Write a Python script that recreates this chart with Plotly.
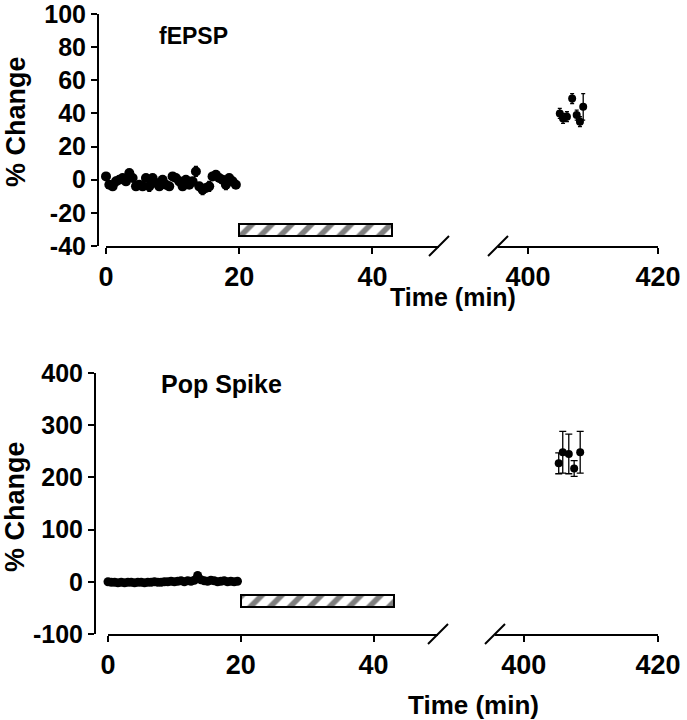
import plotly.graph_objects as go

# Values
time_base = [0, 0.5, 1, 1.5, 2, 2.5, 3, 3.5, 4, 4.5, 5, 5.5, 6, 6.5, 7, 7.5, 8, 8.5, 9, 9.5,
             10, 10.5, 11, 11.5, 12, 12.5, 13, 13.5, 14, 14.5, 15, 15.5, 16, 16.5, 17, 17.5,
             18, 18.5, 19, 19.5]
fepsp_base = [2, -3, -4, -1, 0, 1, -1, 4, 1, -4, -3, -4, 1, -4, 1, -2, -4, 0, -3, -4,
              2, 1, -1, -4, 0, -3, -1, 5, -4, -6, -5, -4, 2, 3, 1, 0, -3, 1, -1, -3]
fepsp_base_err = [1.5, 1.5, 1.5, 1.5, 1.5, 1.5, 1.5, 1.5, 1.5, 1.5, 1.5, 1.5, 1.5, 3, 1.5, 1.5,
                  1.5, 1.5, 1.5, 1.5, 1.5, 1.5, 1.5, 1.5, 1.5, 1.5, 1.5, 3, 1.5, 3, 1.5, 3,
                  1.5, 1.5, 1.5, 1.5, 3, 1.5, 1.5, 1.5]
pop_base = [0, -1, -1, -2, -1, -2, -1, -1, -2, -1, -1, -2, -1, -1, 0, -1, -1, 0, 0, 1,
            0, 1, 2, 0, 2, 1, 3, 12, 4, 2, 1, 3, 2, 0, 1, 2, 0, 1, 0, 1]
pop_base_err = [2] * 40

fepsp_late_t = [404.9, 405.4, 406.0, 406.8, 407.5, 408.0, 408.5]
fepsp_late = [40, 37, 38, 49, 39, 35, 44]
fepsp_late_err = [3, 3, 3, 3, 3, 3, 8]

pop_late_t = [405.2, 405.8, 406.7, 407.5, 408.4]
pop_late = [227, 248, 245, 217, 248]
pop_late_err = [20, 40, 38, 15, 40]

# drug application bar (min) and its vertical extent in each panel
drug_start, drug_end = 20, 43
fepsp_bar = (-34, -27)
pop_bar = (-49, -26)

fepsp_ticks = [-40, -20, 0, 20, 40, 60, 80, 100]
fepsp_ticktext = ['-40', '-20', '0', '20', '40', '60', '80', '100']
pop_ticks = [-100, 0, 100, 200, 300, 400]
pop_ticktext = ['-100', '0', '100', '200', '300', '400']

W, H = 687, 720
FONT = "Liberation Sans, Arial, sans-serif"


def px(x):
    return x / W


def py(y):
    return 1 - y / H


fig = go.Figure()


def add_points(t, v, e, xa, ya, size, cap):
    fig.add_trace(go.Scatter(
        x=t, y=v, xaxis=xa, yaxis=ya, mode='markers',
        marker=dict(color='black', size=size),
        error_y=dict(type='data', array=e, color='black', thickness=1.3, width=cap),
        cliponaxis=False, showlegend=False
    ))


def add_bar(lo, hi, xa, ya):
    fig.add_trace(go.Bar(
        orientation='h', x=[drug_end - drug_start], base=[drug_start],
        y=[(lo + hi) / 2], width=[hi - lo], xaxis=xa, yaxis=ya,
        marker=dict(color='white', line=dict(color='black', width=2),
                    pattern=dict(shape='/', fgcolor='black', bgcolor='white',
                                 size=14, solidity=0.4)),
        showlegend=False
    ))


add_bar(*fepsp_bar, 'x', 'y')
add_points(time_base, fepsp_base, fepsp_base_err, 'x', 'y', 10, 2)
add_points(fepsp_late_t, fepsp_late, fepsp_late_err, 'x2', 'y', 8, 2)

add_bar(*pop_bar, 'x3', 'y2')
add_points(time_base, pop_base, pop_base_err, 'x3', 'y2', 9, 2)
add_points(pop_late_t, pop_late, pop_late_err, 'x4', 'y2', 8, 3.5)

tickfont = dict(family=FONT, size=27, color='black', weight='bold')
ytickfont = dict(family=FONT, size=25, color='black', weight='bold')
axis_common = dict(showline=True, linecolor='black', linewidth=2, ticks='outside',
                   ticklen=6, tickwidth=2, tickcolor='black', showgrid=False,
                   zeroline=False, automargin=False, ticklabeloverflow='allow')

fig.update_layout(
    width=W, height=H, margin=dict(l=0, r=0, t=0, b=0),
    plot_bgcolor='white', paper_bgcolor='white', bargap=0,
    xaxis=dict(domain=[px(106), px(439)], range=[0, 50], anchor='y',
               tickvals=[0, 20, 40], tickfont=tickfont, **axis_common),
    xaxis2=dict(domain=[px(498), px(658)], range=[395.4, 420], anchor='y',
                tickvals=[400, 420], tickfont=tickfont, **axis_common),
    yaxis=dict(domain=[py(246), py(14)], range=[-40, 100], anchor='free',
               position=px(98), tickvals=fepsp_ticks, ticktext=fepsp_ticktext,
               tickfont=ytickfont, **axis_common),
    xaxis3=dict(domain=[px(108), px(438)], range=[0, 49.7], anchor='y2',
                tickvals=[0, 20, 40], tickfont=tickfont, **axis_common),
    xaxis4=dict(domain=[px(495), px(658)], range=[395.7, 420], anchor='y2',
                tickvals=[400, 420], tickfont=tickfont, **axis_common),
    yaxis2=dict(domain=[py(634), py(373)], range=[-100, 400], anchor='free',
                position=px(95), tickvals=pop_ticks, ticktext=pop_ticktext,
                tickfont=ytickfont, **axis_common),
)

# axis break marks, placed on the paper at the ends of the axis segments
for xa_end, xb_start, y_axis in [(439, 498, 246), (438, 495, 634)]:
    for cx in (xa_end, xb_start):
        fig.add_shape(type='line', xref='paper', yref='paper',
                      xsizemode='pixel', ysizemode='pixel',
                      xanchor=px(cx), yanchor=py(y_axis), x0=-10, x1=10, y0=-10, y1=10,
                      line=dict(color='black', width=2))

titlefont = dict(family=FONT, size=25, color='black', weight='bold')
labels = [
    ("% Change", 16, 122, -90, 27),
    ("% Change", 15, 507, -90, 27),
    ("Time (min)", 453, 297, 0, 25),
    ("Time (min)", 473, 705, 0, 26),
    ("fEPSP", 193, 36, 0, 23),
    ("Pop Spike", 221, 384, 0, 25),
]
for text, x, y, ang, size in labels:
    fig.add_annotation(text=text, x=px(x), y=py(y), xref='paper', yref='paper',
                       showarrow=False, textangle=ang, xanchor='center', yanchor='middle',
                       font=dict(titlefont, size=size))

fig.write_html("out.html", post_script="document.body.style.margin='0';",
               config={'displayModeBar': False})
